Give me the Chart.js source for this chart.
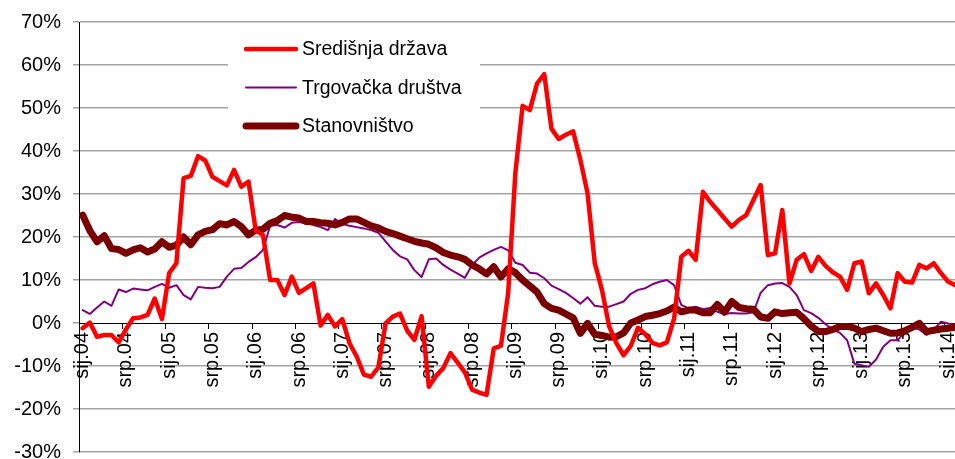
<!DOCTYPE html>
<html>
<head>
<meta charset="utf-8">
<script src="https://cdn.jsdelivr.net/npm/chart.js@4.4.1/dist/chart.umd.min.js"></script>
<style>
  html, body { margin: 0; padding: 0; background: #fff; overflow: hidden; }
  #wrap { width: 961px; height: 459px; position: relative; }
</style>
</head>
<body>
<div id="wrap"><canvas id="chart"></canvas></div>
<script>
// ---- DATA ----
// monthly, sij.04 .. velj.14
const monthNames = ['sij', 'velj', 'ožu', 'tra', 'svi', 'lip', 'srp', 'kol', 'ruj', 'lis', 'stu', 'pro'];
const years = ['04', '05', '06', '07', '08', '09', '10', '11', '12', '13', '14'];
const categories = [];
years.forEach(y => monthNames.forEach(m => categories.push(m + '.' + y)));
categories.splice(122);

const seriesNames = ['Središnja država', 'Trgovačka društva', 'Stanovništvo'];

const sredisnjaDrzava = [
    -1.2, 0.1, -3.2, -2.8, -2.8, -4.5, -1.5, 1.1, 1.3, 1.9, 5.7, 0.9,
    11.6, 13.9, 33.7, 34.2, 38.8, 37.8, 34.0, 33.0, 32.0, 35.6, 31.7, 32.9,
    21.5, 20.5, 10.0, 10.0, 6.5, 10.8, 7.0, 8.1, 9.2, -0.6, 1.9, -0.8,
    0.9, -4.7, -7.8, -12.0, -12.5, -10.3, -0.1, 1.5, 2.2, -1.8, -3.9, 1.6,
    -14.8, -12.3, -10.5, -7.0, -9.2, -11.5, -15.5, -16.2, -16.7, -5.9, -5.3, 7.0,
    35.0, 50.5, 49.5, 55.7, 57.9, 45.2, 42.8, 43.8, 44.6, 38.0, 30.2, 14.0,
    7.7, -0.8, -4.7, -7.5, -5.3, -1.1, -2.6, -4.6, -5.2, -4.5, 1.0, 15.4,
    16.8, 14.7, 30.5, 28.2, 26.3, 24.3, 22.4, 24.0, 25.1, 28.6, 32.1, 15.8,
    16.2, 26.3, 9.2, 14.7, 16.0, 12.1, 15.4, 13.3, 11.8, 10.8, 7.7, 13.9,
    14.3, 6.9, 9.2, 6.5, 3.4, 11.6, 9.6, 9.4, 13.5, 12.7, 13.9, 11.6,
    9.6, 8.8
];

const trgovackaDrustva = [
    3.0, 2.1, 3.6, 5.0, 4.0, 7.8, 7.2, 8.0, 7.8, 7.6, 8.4, 9.1,
    8.2, 8.8, 6.5, 5.5, 8.4, 8.2, 8.1, 8.4, 10.8, 12.6, 12.8, 14.2,
    15.3, 17.0, 22.6, 22.8, 22.2, 23.3, 23.5, 23.2, 22.8, 22.3, 21.6, 24.2,
    23.0, 22.6, 22.3, 22.0, 21.6, 21.0, 19.0, 17.0, 15.5, 14.8, 12.3, 10.7,
    14.8, 15.0, 13.5, 12.4, 11.5, 10.5, 13.5, 15.2, 16.2, 17.0, 17.7, 16.9,
    14.0, 13.5, 11.7, 11.5, 10.4, 8.7, 7.9, 7.0, 5.8, 4.5, 6.0, 4.0,
    3.8, 3.8, 4.4, 5.0, 6.8, 7.7, 8.1, 9.0, 9.6, 10.0, 8.8, 4.2,
    3.4, 3.8, 3.2, 3.5, 2.6, 2.1, 2.3, 2.2, 2.2, 2.5, 7.0, 8.8,
    9.2, 9.3, 8.4, 6.5, 3.0, 2.3, 1.2, -0.3, -1.5, -2.3, -4.0, -9.5,
    -9.8, -10.2, -8.5, -5.5, -4.0, -4.0, -2.0, -1.0, -1.5, -2.8, -1.6, 0.3,
    -0.1, -0.4
];

const stanovnistvo = [
    25.1, 21.5, 18.9, 20.3, 17.3, 17.1, 16.2, 17.0, 17.5, 16.5, 17.2, 18.9,
    17.6, 18.1, 20.0, 18.2, 20.5, 21.3, 21.7, 23.1, 22.8, 23.6, 22.4, 20.5,
    21.6, 21.8, 23.2, 23.8, 25.0, 24.6, 24.4, 23.6, 23.6, 23.3, 23.2, 22.8,
    23.4, 24.2, 24.2, 23.4, 22.6, 22.1, 21.3, 20.8, 20.2, 19.6, 19.0, 18.6,
    18.3, 17.5, 16.4, 15.8, 15.4, 14.8, 13.5, 12.6, 11.4, 13.1, 10.7, 12.6,
    11.7, 10.0, 8.6, 7.2, 4.5, 3.4, 3.0, 2.1, 1.2, -2.4, -0.1, -2.6,
    -2.9, -3.3, -3.2, -2.3, 0.0, 0.7, 1.5, 1.8, 2.2, 2.8, 3.7, 2.6,
    3.0, 3.0, 2.4, 2.4, 4.3, 2.5, 5.0, 3.6, 3.3, 3.2, 1.4, 1.1,
    2.6, 2.2, 2.4, 2.5, 1.0, -0.7, -2.0, -2.0, -1.5, -0.8, -0.8, -1.2,
    -2.0, -1.5, -1.2, -1.8, -2.4, -2.3, -1.8, -1.0, -0.1, -2.0, -1.7, -1.4,
    -1.2, -1.0
];

const yMin = -30;
const yMax = 70;
const yStep = 10;

// ---- STYLE ----
const FONT = 'Liberation Sans, Arial, sans-serif';
const GRID_GREY = '#a3a3a3';

// legend drawn inside the plot, on a white box (like the Excel original)
const insideLegend = {
    id: 'insideLegend',
    beforeDatasetsDraw(chart) {
        const ctx = chart.ctx;
        ctx.save();
        ctx.fillStyle = '#fff';
        ctx.fillRect(228, 30, 252, 114);
        ctx.restore();
    },
    afterDraw(chart) {
        const ctx = chart.ctx;
        ctx.save();
        chart.data.datasets.forEach((ds, k) => {
            const y = 49 + k * 38.5;
            ctx.beginPath();
            ctx.strokeStyle = ds.borderColor;
            ctx.lineWidth = ds.borderWidth;
            ctx.lineCap = 'round';
            ctx.moveTo(246, y);
            ctx.lineTo(296, y);
            ctx.stroke();
            ctx.fillStyle = '#000';
            ctx.font = '19.5px ' + FONT;
            ctx.textAlign = 'left';
            ctx.textBaseline = 'middle';
            ctx.fillText(ds.label, 302, y + 1);
        });
        ctx.restore();
    }
};

function lineDataset(label, data, color, width, order) {
    return {
        label: label,
        data: data,
        borderColor: color,
        backgroundColor: color,
        borderWidth: width,
        pointRadius: 0,
        tension: 0,
        borderJoinStyle: 'round',
        borderCapStyle: 'round',
        order: order
    };
}

new Chart(document.getElementById('chart'), {
    type: 'line',
    data: {
        labels: categories,
        datasets: [
            lineDataset(seriesNames[0], sredisnjaDrzava, '#ff0000', 4.5, 0),
            lineDataset(seriesNames[1], trgovackaDrustva, '#800080', 2, 2),
            lineDataset(seriesNames[2], stanovnistvo, '#7a0000', 7, 1)
        ]
    },
    options: {
        responsive: true,
        maintainAspectRatio: false,
        animation: false,
        devicePixelRatio: 1,
        layout: { padding: { left: 0, right: 2, top: 22, bottom: 7 } },
        plugins: {
            legend: { display: false },
            tooltip: { enabled: false }
        },
        scales: {
            x: {
                type: 'category',
                position: { y: 0 },
                offset: true,
                border: { display: true, color: '#000', width: 1 },
                grid: {
                    offset: true,
                    drawOnChartArea: false,
                    drawTicks: true,
                    tickLength: 5,
                    lineWidth: 1,
                    color: c => (c.index % 6 === 0 ? '#000' : 'rgba(0,0,0,0)')
                },
                ticks: {
                    autoSkip: false,
                    minRotation: 90,
                    maxRotation: 90,
                    padding: 4,
                    color: '#000',
                    font: { family: FONT, size: 20 },
                    callback: (v, i) => (i % 6 === 0 ? categories[i] : '')
                },
                afterFit: s => { s.paddingLeft = 0; s.paddingRight = 0; }
            },
            y: {
                min: yMin,
                max: yMax,
                border: { display: true, color: '#000', width: 1 },
                grid: {
                    lineWidth: 1.5,
                    tickLength: 6,
                    tickColor: GRID_GREY,
                    color: c => (c.tick && c.tick.value === 0 ? 'rgba(0,0,0,0)' : GRID_GREY)
                },
                ticks: {
                    stepSize: yStep,
                    padding: 12,
                    color: '#000',
                    font: { family: FONT, size: 20 },
                    callback: v => v + '%'
                },
                afterFit: s => { s.width = 79; s.paddingTop = 0; s.paddingBottom = 0; }
            }
        }
    },
    plugins: [insideLegend]
});
</script>
</body>
</html>
